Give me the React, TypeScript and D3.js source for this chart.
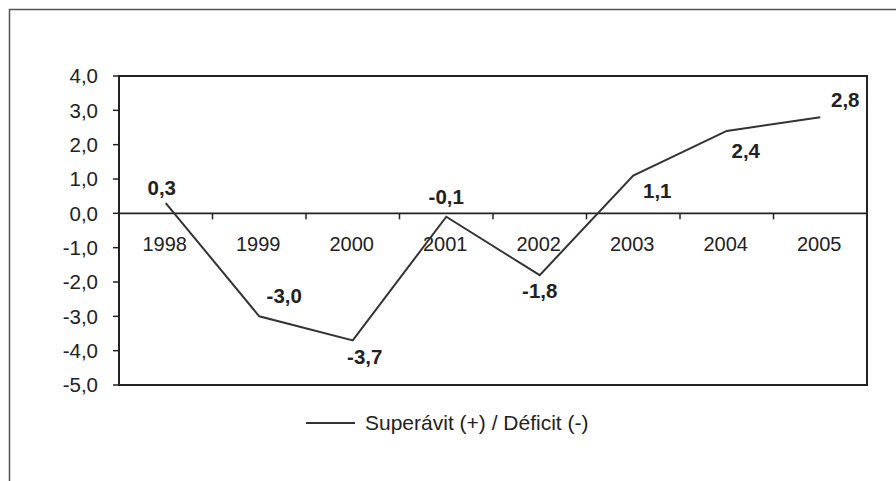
import React from "react";
import * as d3 from "d3";

const years = ["1998", "1999", "2000", "2001", "2002", "2003", "2004", "2005"];
const balance = [0.3, -3.0, -3.7, -0.1, -1.8, 1.1, 2.4, 2.8];
const yTicks = [4, 3, 2, 1, 0, -1, -2, -3, -4, -5];
const seriesName = "Superávit (+) / Déficit (-)";

// label placement offsets relative to each point (styling, not data)
const labelDx = [-4, 25, 12, 0, 0, 24, 19, 25];
const labelDy = [-8, -13, 24, -13, 23, 22, 27, -10];

const W = 896;
const H = 481;
const left = 119;
const right = 867;
const top = 76;
const bottom = 385;

export default function App() {
  const x = d3.scaleBand<string>().domain(years).range([left, right]);
  const y = d3.scaleLinear().domain([-5, 4]).range([bottom, top]);
  const fmt = (v: number) => v.toFixed(1).replace(".", ",");
  const line = d3
    .line<number>()
    .x((_, i) => (x(years[i]) as number) + x.bandwidth() / 2)
    .y((d) => y(d));
  const y0 = y(0);
  const font = "Arial, 'Liberation Sans', sans-serif";

  return (
    <svg
      width={W}
      height={H}
      style={{ position: "absolute", left: 0, top: 0, background: "#fff" }}
      fontFamily={font}
    >
      {/* outer border (partial, cropped) */}
      <path d={`M9.5,${H} L9.5,9.5 L${W},9.5`} fill="none" stroke="#555" strokeWidth={1.5} />

      {/* plot area box */}
      <rect x={left} y={top} width={right - left} height={bottom - top} fill="none" stroke="#222" strokeWidth={2} />

      {/* y ticks and labels */}
      {yTicks.map((t) => (
        <g key={t}>
          <line x1={left - 6} x2={left} y1={y(t)} y2={y(t)} stroke="#222" strokeWidth={1.5} />
          <text x={98} y={y(t)} dy="0.35em" textAnchor="end" fontSize={20.5} fill="#222">
            {fmt(t)}
          </text>
        </g>
      ))}

      {/* zero axis with category ticks */}
      <line x1={left} x2={right} y1={y0} y2={y0} stroke="#222" strokeWidth={1.8} />
      {years.map((yr) => (
        <line
          key={"t" + yr}
          x1={x(yr) as number}
          x2={x(yr) as number}
          y1={y0}
          y2={y0 + 6}
          stroke="#222"
          strokeWidth={1.5}
        />
      ))}
      {years.map((yr) => (
        <text
          key={"l" + yr}
          x={(x(yr) as number) + x.bandwidth() / 2 - 1}
          y={y0 + 38}
          textAnchor="middle"
          fontSize={20}
          fill="#222"
        >
          {yr}
        </text>
      ))}

      {/* series line */}
      <path d={line(balance) as string} fill="none" stroke="#333" strokeWidth={2} />

      {/* data labels */}
      {balance.map((v, i) => (
        <text
          key={"d" + i}
          x={(x(years[i]) as number) + x.bandwidth() / 2 + labelDx[i]}
          y={y(v) + labelDy[i]}
          textAnchor="middle"
          fontSize={20.5}
          fontWeight="bold"
          fill="#222"
        >
          {fmt(v)}
        </text>
      ))}

      {/* legend */}
      <line x1={306} x2={355} y1={423} y2={423} stroke="#333" strokeWidth={2} />
      <text x={365} y={430} fontSize={21} fill="#222">
        {seriesName}
      </text>
    </svg>
  );
}
